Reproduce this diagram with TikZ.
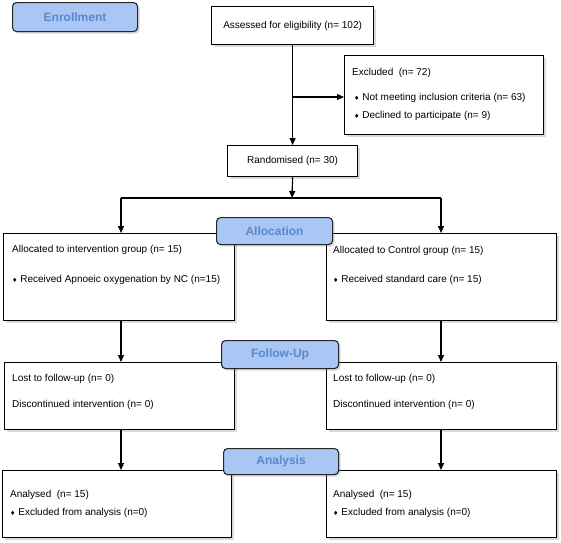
\documentclass[tikz,border=0pt]{standalone}
\usepackage{fontspec}
\setmainfont{Liberation Sans}
\newfontfamily\djv{DejaVu Sans}
\usetikzlibrary{arrows.meta,shadows}
\definecolor{tabfill}{HTML}{AAC6F5}
\definecolor{tabtext}{HTML}{5A88CC}
\newcommand\bul{{\djv\fontsize{6}{6}\selectfont ♦}}
\begin{document}
\begin{tikzpicture}[x=1pt,y=-1pt,
  box/.style={draw=black, line width=1.2pt, fill=white, anchor=north west, inner sep=0pt,
    drop shadow={opacity=0.3, shadow xshift=2pt, shadow yshift=-2pt}},
  tab/.style={draw=black!85, line width=1.1pt, fill=tabfill, rounded corners=4pt, anchor=north west,
    inner sep=0pt, text=tabtext, font=\fontsize{12}{14}\selectfont\bfseries,
    drop shadow={opacity=0.3, shadow xshift=2pt, shadow yshift=-2pt}},
  txt/.style={anchor=base west, inner sep=0pt, font=\fontsize{10}{12}\selectfont},
  ctxt/.style={anchor=center, inner sep=0pt, font=\fontsize{10}{12}\selectfont},
  arr/.style={line width=1.2pt, -{Triangle[length=7pt,width=6pt]}},
  ln/.style={line width=1.2pt}]
\useasboundingbox (0,0) rectangle (561,542);

% Enrollment stage
\node[box, minimum width=162pt, minimum height=38pt] (assess) at (211,6) {};
\node[ctxt] (assessT) at (assess.center) {Assessed for eligibility (n= 102)};

\node[box, minimum width=199pt, minimum height=79pt] (excl) at (344,55) {};
\node[txt] (exclT1) at (352,75.5) {Excluded\ \ (n= 72)};
\node[txt] (exclT2) at (354,100.5) {\bul\ Not meeting inclusion criteria (n= 63)};
\node[txt] (exclT3) at (354,118.5) {\bul\ Declined to participate (n= 9)};

\node[box, minimum width=130pt, minimum height=31pt] (rand) at (227,145) {};
\node[ctxt] (randT) at (rand.center) {Randomised (n= 30)};

\coordinate (br) at (292,97);
\coordinate (split) at (292,198);
\coordinate (splitL) at (121,198);
\coordinate (splitR) at (441,198);

\draw[arr] (assess.south) -- (rand.north);
\draw[arr] (br) -- (br -| excl.west);
\draw[arr] (rand.south) -- (split);
\draw[ln] (splitL) -- (splitR);

% Allocation
\node[box, minimum width=231pt, minimum height=87pt] (allocL) at (3,233) {};
\node[txt] (allocLT1) at (12,252.5) {Allocated to intervention group (n= 15)};
\node[txt] (allocLT2) at (12,282.5) {\bul\ Received Apnoeic oxygenation by NC (n=15)};

\node[box, minimum width=230pt, minimum height=87pt] (allocR) at (326,233) {};
\node[txt] (allocRT1) at (333,253) {Allocated to Control group (n= 15)};
\node[txt] (allocRT2) at (333,282.5) {\bul\ Received standard care (n= 15)};

\draw[arr] (splitL) -- (splitL |- allocL.north);
\draw[arr] (splitR) -- (splitR |- allocR.north);

% Follow-up
\node[box, minimum width=230pt, minimum height=67pt] (fuL) at (4,362) {};
\node[txt] (fuLT1) at (12,381.5) {Lost to follow-up (n= 0)};
\node[txt] (fuLT2) at (12,407.5) {Discontinued intervention (n= 0)};

\node[box, minimum width=230pt, minimum height=67pt] (fuR) at (326,362) {};
\node[txt] (fuRT1) at (333,381.5) {Lost to follow-up (n= 0)};
\node[txt] (fuRT2) at (333,407.5) {Discontinued intervention (n= 0)};

\draw[arr] (allocL.south -| splitL) -- (fuL.north -| splitL);
\draw[arr] (allocR.south -| splitR) -- (fuR.north -| splitR);

% Analysis
\node[box, minimum width=229pt, minimum height=67pt] (anL) at (2,470) {};
\node[txt] (anLT1) at (10,497.5) {Analysed\ \ (n= 15)};
\node[txt] (anLT2) at (10,515.5) {\bul\ Excluded from analysis (n=0)};

\node[box, minimum width=230pt, minimum height=67pt] (anR) at (326,470) {};
\node[txt] (anRT1) at (333,497.5) {Analysed\ \ (n= 15)};
\node[txt] (anRT2) at (333,515.5) {\bul\ Excluded from analysis (n=0)};

\draw[arr] (fuL.south -| splitL) -- (anL.north -| splitL);
\draw[arr] (fuR.south -| splitR) -- (anR.north -| splitR);

% Stage tabs
\node[tab, minimum width=125pt, minimum height=29pt] (enr) at (12,2) {Enrollment};
\node[tab, minimum width=116pt, minimum height=27pt] (alloc) at (216,217) {Allocation};
\node[tab, minimum width=117pt, minimum height=28pt] (fu) at (221,340) {Follow-Up};
\node[tab, minimum width=115pt, minimum height=26pt] (an) at (223,448) {Analysis};
\end{tikzpicture}
\end{document}
